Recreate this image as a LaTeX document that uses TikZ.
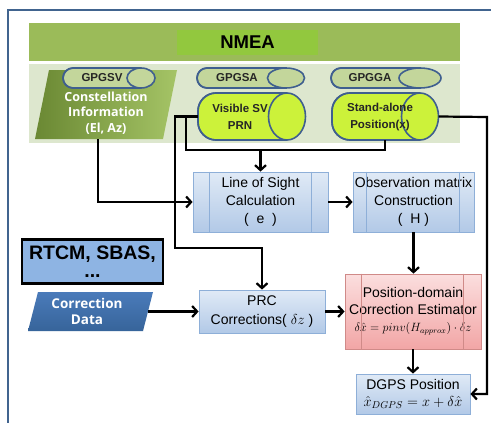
\documentclass[tikz,border=0pt]{standalone}
\usepackage{fontspec}
\setmainfont{Liberation Sans}
\newfontfamily\kfont{Open Sans}
\usetikzlibrary{arrows.meta,calc}
\definecolor{framec}{HTML}{41648F}
\definecolor{band}{HTML}{9BBB59}
\definecolor{nmeabox}{HTML}{92C83E}
\definecolor{panel}{HTML}{DDE7CE}
\definecolor{pill}{HTML}{C3D69B}
\definecolor{pillline}{HTML}{3F5F8F}
\definecolor{cyl}{HTML}{CCF23A}
\definecolor{btop}{HTML}{E0EAF6}
\definecolor{bbot}{HTML}{B2C9E7}
\definecolor{bline}{HTML}{8EAFD8}
\definecolor{ptop}{HTML}{FBDEDE}
\definecolor{pbot}{HTML}{F2A6A6}
\definecolor{pline}{HTML}{D08A88}
\definecolor{rtcm}{HTML}{8EB4E3}
\definecolor{cdtop}{HTML}{4A7BBA}
\definecolor{cdbot}{HTML}{37649A}
\definecolor{cgl}{HTML}{6A8833}
\definecolor{cgr}{HTML}{A5C466}
\definecolor{dtext}{HTML}{262626}
\tikzset{
  lbl/.style={inner sep=0pt, align=center},
  ghost/.style={inner sep=0pt, draw=none},
  blk/.style={draw=bline, line width=0.8pt, top color=btop, bottom color=bbot,
    inner sep=0pt, align=center, font=\fontsize{14}{18}\selectfont},
  pinkblk/.style={draw=pline, line width=0.8pt, top color=ptop, bottom color=pbot,
    inner sep=0pt, align=center, font=\fontsize{14}{17}\selectfont},
  ln/.style={line width=2.2pt, black},
  arr/.style={ln, -{Straight Barb[length=5pt,width=11pt]}},
  cylst/.style={draw=pillline, line width=1.6pt, fill=cyl},
  pillst/.style={draw=pillline, line width=1.6pt, fill=pill},
  pilltxt/.style={lbl, text=dtext, font=\fontsize{11.5}{13}\selectfont\bfseries},
}
% cylinder: style, x0, y0, y1, xe (ellipse centre), rx, left corner radius
\newcommand\mycyl[7]{%
  \pgfmathsetmacro\cym{(#3+#4)/2}%
  \pgfmathsetmacro\cry{(#4-#3)/2}%
  \fill[#1] (#5,#3) [rounded corners=#7pt] -- (#2,#3) -- (#2,#4) -- (#5,#4);
  \draw[#1,fill=none] (#5,#3) [rounded corners=#7pt] -- (#2,#3) -- (#2,#4) -- (#5,#4);
  \filldraw[#1] (#5,\cym) ellipse[x radius=#6, y radius=\cry];
}
\begin{document}
\begin{tikzpicture}[x=1pt,y=-1pt]
\useasboundingbox (0,0) rectangle (491,423);
\fill[white] (0,0) rectangle (491,423);
% outer frame
\draw[framec, line width=2.2pt] (8,10) rectangle (505,445);
% NMEA band
\node[ghost, fill=band, minimum width=431pt, minimum height=38pt] (band) at (244.5,42) {};
\node[ghost, fill=nmeabox, minimum width=141pt, minimum height=25pt,
  font=\fontsize{18.5}{20}\selectfont\bfseries] (nmea) at (247.5,42.5) {NMEA};
% lower panel
\node[ghost, fill=panel, minimum width=431pt, minimum height=79pt] (panel) at (244.5,103.5) {};
% constellation parallelogram
\shade[left color=cgl, right color=cgr] (49,70) -- (177,70) -- (163,139) -- (35,139) -- cycle;
\node[ghost, minimum width=142pt, minimum height=69pt] (cons) at (106,104.5) {};
\node[lbl, text=white, font=\kfont\fontsize{12.5}{15.5}\selectfont\bfseries] (constxt) at (106,113)
  {Constellation\\Information\\(El, Az)};
% pills
\mycyl{pillst}{63}{68}{88}{141}{14}{10}
\mycyl{pillst}{197}{68}{88}{286}{18.5}{10}
\mycyl{pillst}{331}{68}{88}{420}{21}{10}
\node[pilltxt] (gsv) at (102,78) {GPGSV};
\node[pilltxt] (gsa) at (237,78) {GPGSA};
\node[pilltxt] (gga) at (370,78) {GPGGA};
% big cylinders
\mycyl{cylst}{198}{93}{140}{287}{18.5}{18}
\mycyl{cylst}{332}{93}{140}{420}{18.5}{18}
\node[ghost, minimum width=107.5pt, minimum height=47pt] (vis) at (251.75,116.5) {};
\node[ghost, minimum width=106.5pt, minimum height=47pt] (sa) at (385.25,116.5) {};
\node[pilltxt, font=\fontsize{11.5}{16.5}\selectfont\bfseries] (vistxt) at (240,117) {Visible SV\\PRN};
\node[pilltxt, font=\fontsize{11.5}{16.5}\selectfont\bfseries] (satxt) at (380,117) {Stand-alone\\Position(x)};
% LOS
\node[blk, minimum width=135pt, minimum height=60pt] (los) at (260.5,202)
  {Line of Sight\\Calculation\\(\ \ e\ \ )};
\draw[bline, line width=0.8pt] ([xshift=17pt]los.north west) -- ([xshift=17pt]los.south west);
\draw[bline, line width=0.8pt] ([xshift=-17pt]los.north east) -- ([xshift=-17pt]los.south east);
% Observation
\node[blk, minimum width=121pt, minimum height=60pt] (obs) at (413.5,202)
  {Observation matrix\\Construction\\(\ \ H\ )};
\draw[bline, line width=0.8pt] ([xshift=14pt]obs.north west) -- ([xshift=14pt]obs.south west);
\draw[bline, line width=0.8pt] ([xshift=-15pt]obs.north east) -- ([xshift=-15pt]obs.south east);
% RTCM
\node[draw=black, line width=2.5pt, fill=rtcm, minimum width=141pt, minimum height=44pt,
  inner sep=0pt, align=center, font=\fontsize{19.5}{18}\selectfont\bfseries] (rtcm) at (92.5,261.5)
  {RTCM, SBAS,\\...};
% Correction data
\shade[top color=cdtop, bottom color=cdbot] (38,292) -- (153,292) -- (143,331) -- (28,331) -- cycle;
\node[ghost, minimum width=125pt, minimum height=39pt] (cd) at (90.5,311.5) {};
\node[lbl, text=white, font=\kfont\fontsize{13.5}{16}\selectfont\bfseries] (cdtxt) at (87,311)
  {Correction\\Data};
% PRC
\node[blk, minimum width=126pt, minimum height=43pt, font=\fontsize{14}{19}\selectfont] (prc) at (262,311.5)
  {PRC\\Corrections( $\delta z$ )};
% Position-domain
\node[pinkblk, minimum width=136pt, minimum height=75pt] (pos) at (413,311.5)
  {Position-domain\\Correction Estimator\\{\fontsize{11.5}{13}\selectfont$\delta\hat{x}=pinv(H_{approx})\cdot\delta z$}};
\draw[pline, line width=0.8pt] ([xshift=17pt]pos.north west) -- ([xshift=17pt]pos.south west);
\draw[pline, line width=0.8pt] ([xshift=-18pt]pos.north east) -- ([xshift=-18pt]pos.south east);
% DGPS
\node[blk, minimum width=114pt, minimum height=40pt, font=\fontsize{14}{17}\selectfont] (dgps) at (413,394)
  {DGPS Position\\{\fontsize{14.5}{16}\selectfont$\hat{x}_{DGPS}=x+\delta\hat{x}$}};
% connectors
\coordinate (j1) at (175,248);
\coordinate (j2) at (186,150);
\coordinate (j3) at (487,117);
\draw[arr] (vis.west) -| (j1) -| (prc.north);
\draw[ln] (j2 |- vis.west) -- (j2) -| (sa.south);
\draw[arr] (los.north |- j2) -- (los.north);
\draw[arr] (sa.east) -- (j3) |- (dgps.east);
\draw[arr] ([xshift=-8pt]cons.south) |- (los.west);
\draw[arr] (los.east) -- (obs.west);
\draw[arr] (obs.south) -- (obs.south |- pos.north);
\draw[arr] ([xshift=-5pt]cd.east) -- (prc.west);
\draw[arr] (prc.east) -- (pos.west);
\draw[arr] (pos.south) -- (dgps.north);
\end{tikzpicture}
\end{document}
